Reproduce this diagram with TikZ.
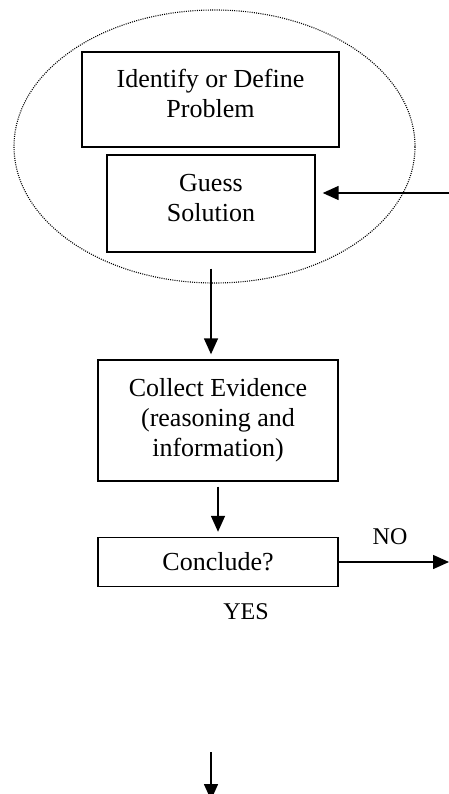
\documentclass[tikz,border=0pt]{standalone}
\usepackage{fontspec}
\setmainfont{Liberation Serif}
\usetikzlibrary{arrows.meta,shapes.geometric}

\tikzset{
	basic/.style  = {draw, line width=1.4pt, rectangle, align=center, inner sep=0pt,
		font=\fontsize{26}{30}\selectfont},
	flow/.style   = {-{Triangle[length=16pt,width=14pt]}, line width=1.5pt},
	group/.style  = {draw, ellipse, line width=1.1pt, dash pattern=on 1pt off 1.2pt},
	answer/.style = {font=\fontsize{24}{28}\selectfont}
}

\begin{document}
\begin{tikzpicture}[x=1pt, y=-1pt]
\useasboundingbox (0,0) rectangle (449,794);

% dotted group round the first two steps
\node[group, minimum width=401pt, minimum height=273pt] (grp) at (214.5,146.5) {};

% the steps
\node[basic, minimum width=257pt, minimum height=95pt, text depth=12pt] (define) at (210.5,99.5)
	{Identify or Define\\ Problem};
\node[basic, minimum width=208pt, minimum height=97pt, text depth=12pt] (guess) at (211,203.5)
	{Guess\\ Solution};
\node[basic, minimum width=240pt, minimum height=121pt] (collect) at (218,420.5)
	{Collect Evidence\\ (reasoning and\\ information)};
\node[basic, minimum width=240pt, minimum height=49pt] (conclude) at (218,562)
	{Conclude?};

% answers
\node[answer] (no) at (390,537) {NO};
\node[answer] (yes) at (246,612) {YES};

% free ends
\coordinate (back) at (449,193);
\coordinate (noend) at (449,562);
\coordinate (downtop) at (211,752);
\coordinate (downend) at (211,800);

% connectors
\draw[flow, shorten >=7pt] (back) -- (back -| guess.east);
\draw[flow, shorten <=16pt, shorten >=5pt] (guess.south) -- (guess.south |- collect.north);
\draw[flow, shorten <=5pt, shorten >=5pt] (collect.south) -- (conclude.north);
\draw[flow] (conclude.east) -- (noend);
\draw[flow] (downtop) -- (downend);

\end{tikzpicture}
\end{document}
